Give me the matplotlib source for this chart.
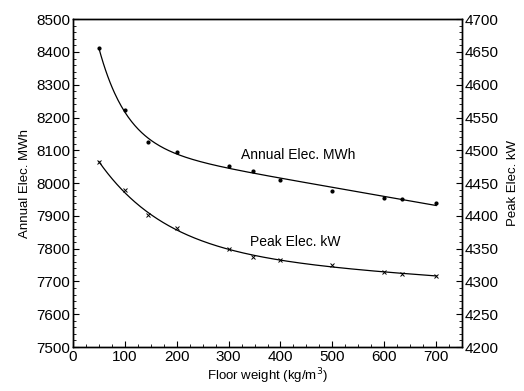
import numpy as np
import matplotlib
matplotlib.use("Agg")
import matplotlib.pyplot as plt
from matplotlib.ticker import MultipleLocator

plt.rcParams['font.family'] = ['Liberation Sans', 'DejaVu Sans']

# floor weight (kg/m3)
weight = [50, 100, 145, 200, 300, 348, 400, 500, 600, 635, 700]
# annual electricity (MWh), left axis
annual = [8412, 8223, 8125, 8095, 8052, 8037, 8009, 7976, 7954, 7951, 7940]
# peak electricity (kW), right axis
peak = [4482, 4439, 4401, 4381, 4349, 4337, 4333, 4325, 4314, 4312, 4308]


def smooth_fit(x, y):
    # fit y = a + b*exp(-x/c) + d*x, scanning c for the best least-squares result
    x = np.asarray(x, float)
    y = np.asarray(y, float)
    best = None
    for c in np.linspace(10, 400, 400):
        A = np.column_stack([np.ones_like(x), np.exp(-x / c), x])
        coef, *_ = np.linalg.lstsq(A, y, rcond=None)
        err = np.sum((A @ coef - y) ** 2)
        if best is None or err < best[0]:
            best = (err, c, coef)
    _, c, coef = best
    xs = np.linspace(x.min(), x.max(), 300)
    B = np.column_stack([np.ones_like(xs), np.exp(-xs / c), xs])
    return xs, B @ coef


fig = plt.figure(figsize=(5.24, 3.91), dpi=100)
ax = fig.add_axes([0.139, 0.1125, 0.743, 0.8385])
ax2 = ax.twinx()

xs, ys = smooth_fit(weight, annual)
ax.plot(xs, ys, color='black', linewidth=0.9)
ax.plot(weight, annual, linestyle='none', marker='o', markersize=2.0, color='black')

xs, ys = smooth_fit(weight, peak)
ax2.plot(xs, ys, color='black', linewidth=0.9)
ax2.plot(weight, peak, linestyle='none', marker='x', markersize=3,
         markeredgewidth=0.7, color='black')

ax.set_xlim(0, 750)
ax.set_ylim(7500, 8500)
ax2.set_ylim(4200, 4700)
ax.set_xticks(range(0, 701, 100))
ax.xaxis.set_minor_locator(MultipleLocator(25))
ax.yaxis.set_major_locator(MultipleLocator(100))
ax.yaxis.set_minor_locator(MultipleLocator(20))
ax2.yaxis.set_major_locator(MultipleLocator(50))
ax2.yaxis.set_minor_locator(MultipleLocator(10))

for a in (ax, ax2):
    a.tick_params(which='both', direction='in', labelsize=11, pad=2)
    a.tick_params(which='major', length=4, width=0.8)
    a.tick_params(which='minor', length=2, width=0.6)
    for s in a.spines.values():
        s.set_linewidth(1.0)
ax.tick_params(axis='x', which='both', top=False)

ax.set_xlabel('Floor weight (kg/m$^3$)', fontsize=9.5, labelpad=2)
ax.set_ylabel('Annual Elec. MWh', fontsize=9.5, labelpad=4)
ax2.set_ylabel('Peak Elec. kW', fontsize=9.5, labelpad=6)

ax.text(434, 8072, 'Annual Elec. MWh', fontsize=10, ha='center', va='baseline')
ax.text(428, 7807, 'Peak Elec. kW', fontsize=10, ha='center', va='baseline')

fig.savefig('out.png', dpi=100)
